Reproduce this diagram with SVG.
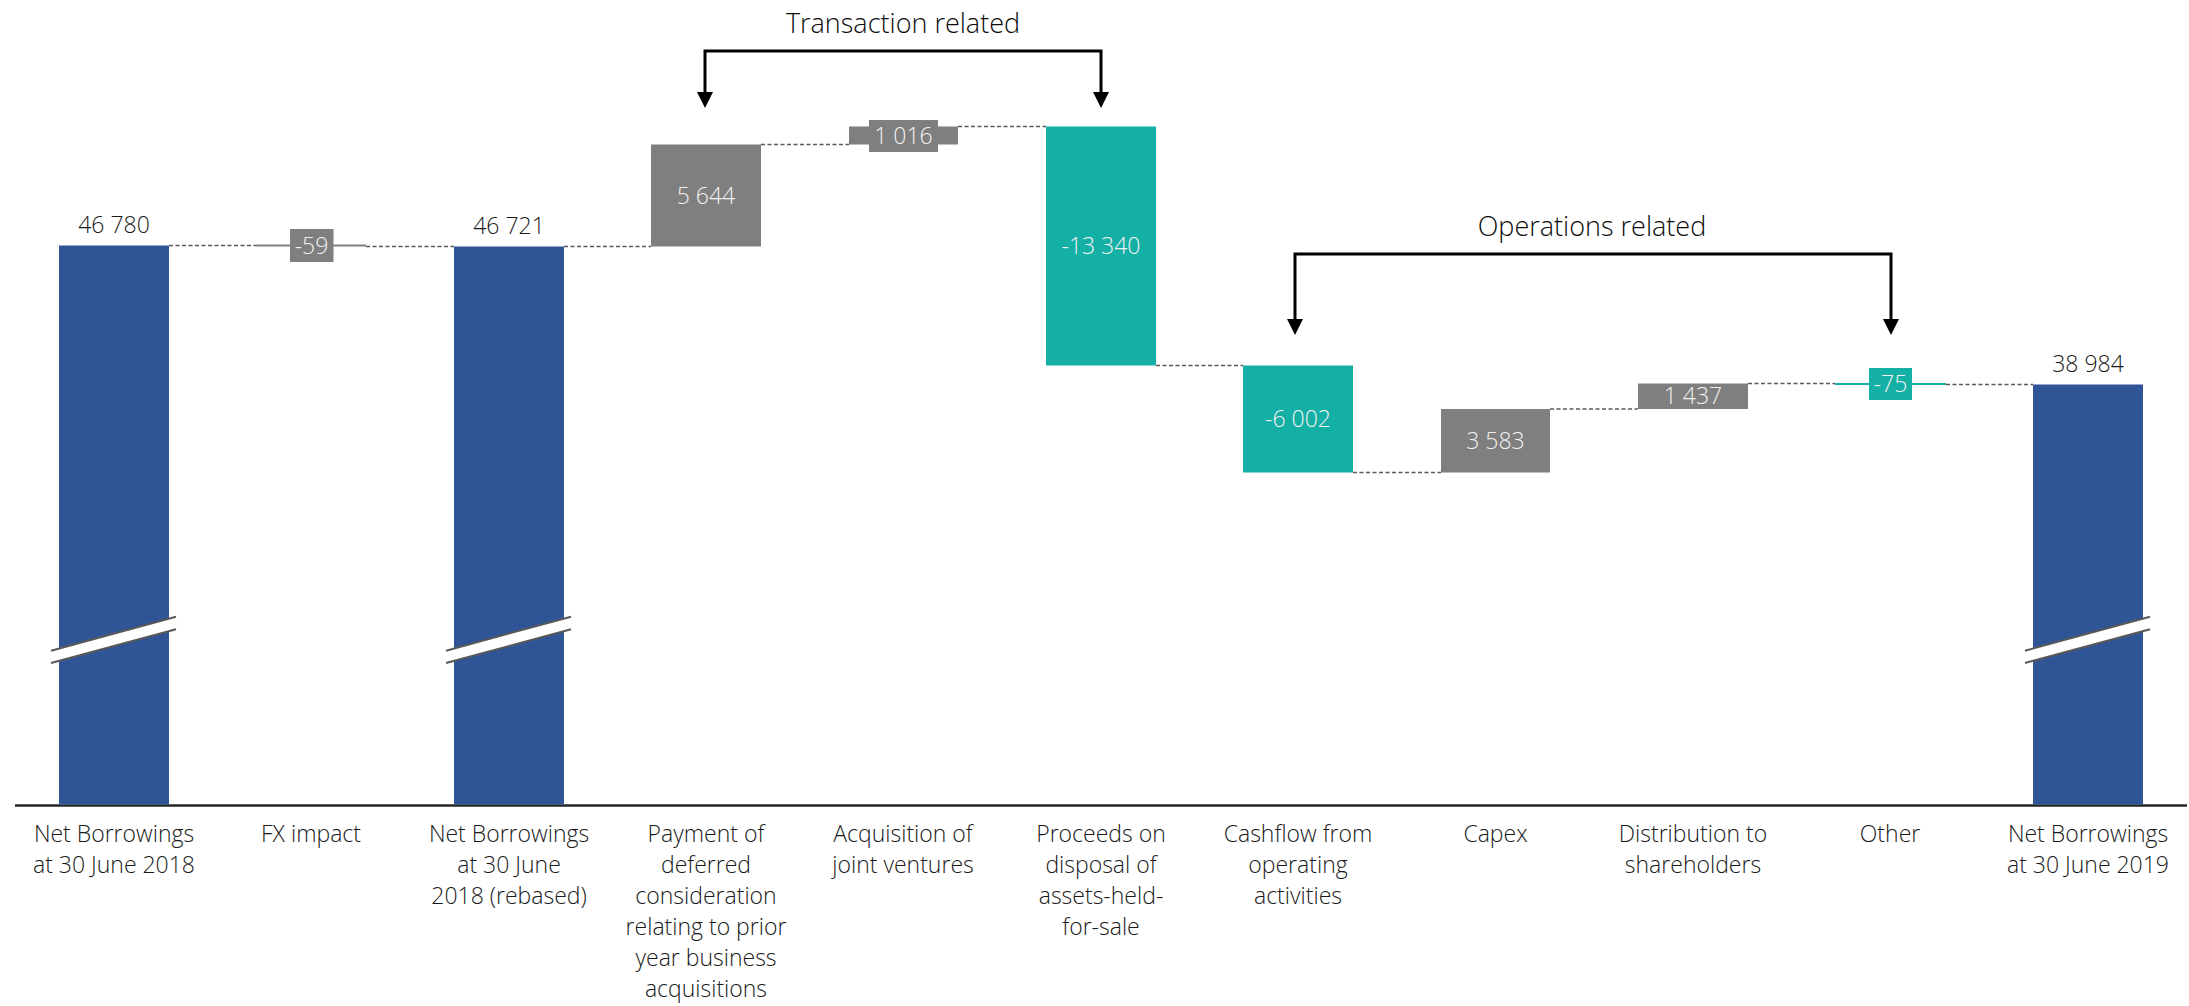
<svg xmlns="http://www.w3.org/2000/svg" width="2189" height="1006" viewBox="0 0 2189 1006">
<style>
text{font-family:"Open Sans","Noto Sans","Liberation Sans",sans-serif;font-size:23px;font-weight:300;fill:#1A1A1A;text-anchor:middle}
.in{fill:#F2F2F2}
.title{font-size:27px;fill:#0D0D0D}
.blue{fill:#2F5597}
.gray{fill:#7F7F7F}
.teal{fill:#14AFA5}
.dash{stroke:#595959;stroke-width:1.5;stroke-dasharray:4 2.5;fill:none}
.brk{fill:#FFFFFF;stroke:none}
.brkl{stroke:#595959;stroke-width:2;fill:none}
.br{stroke:#000;stroke-width:3;fill:none}
.ah{fill:#000}
</style>
<rect width="2189" height="1006" fill="#FFFFFF"/>

<g id="connectors">
<line class="dash" x1="169" y1="245.5" x2="256" y2="245.5"/>
<line class="dash" x1="366" y1="246.5" x2="454" y2="246.5"/>
<line class="dash" x1="564" y1="246.5" x2="651" y2="246.5"/>
<line class="dash" x1="761" y1="144.5" x2="849" y2="144.5"/>
<line class="dash" x1="958" y1="126.5" x2="1046" y2="126.5"/>
<line class="dash" x1="1156" y1="365.5" x2="1243" y2="365.5"/>
<line class="dash" x1="1353" y1="472.5" x2="1441" y2="472.5"/>
<line class="dash" x1="1550" y1="409" x2="1638" y2="409"/>
<line class="dash" x1="1748" y1="383.5" x2="1835" y2="383.5"/>
<line class="dash" x1="1946" y1="384.5" x2="2033" y2="384.5"/>
</g>

<g id="axis">
<line x1="15" y1="805.5" x2="2187" y2="805.5" stroke="#262626" stroke-width="2.5"/>
</g>

<g id="bar-nb2018">
<rect class="blue" x="59" y="245.5" width="110" height="559"/>
<polygon class="brk" points="51,650.7 176,616.7 176,629.3 51,663"/>
<line class="brkl" x1="51" y1="650.7" x2="176" y2="616.7"/>
<line class="brkl" x1="51" y1="663" x2="176" y2="629.3"/>
<text x="114" y="233">46 780</text>
<text x="114" y="841.5">Net Borrowings</text>
<text x="114" y="872.5">at 30 June 2018</text>
</g>

<g id="bar-fx">
<line x1="256" y1="245.5" x2="366" y2="245.5" stroke="#7F7F7F" stroke-width="2"/>
<rect class="gray" x="290" y="229" width="43.5" height="33"/>
<text class="in" x="311.5" y="253.5">-59</text>
<text x="311" y="841.5">FX impact</text>
</g>

<g id="bar-nb2018r">
<rect class="blue" x="454" y="246.5" width="110" height="558"/>
<polygon class="brk" points="446,650.7 571,616.7 571,629.3 446,663"/>
<line class="brkl" x1="446" y1="650.7" x2="571" y2="616.7"/>
<line class="brkl" x1="446" y1="663" x2="571" y2="629.3"/>
<text x="509" y="234">46 721</text>
<text x="509" y="841.5">Net Borrowings</text>
<text x="509" y="872.5">at 30 June</text>
<text x="509" y="903.5">2018 (rebased)</text>
</g>

<g id="bar-deferred">
<rect class="gray" x="651" y="144.5" width="110" height="102"/>
<text class="in" x="706" y="204">5 644</text>
<text x="706" y="841.5">Payment of</text>
<text x="706" y="872.5">deferred</text>
<text x="706" y="903.5">consideration</text>
<text x="706" y="934.5">relating to prior</text>
<text x="706" y="965.5">year business</text>
<text x="706" y="996.5">acquisitions</text>
</g>

<g id="bar-jv">
<rect class="gray" x="849" y="126.5" width="109" height="18"/>
<rect class="gray" x="869" y="120" width="69" height="32"/>
<text class="in" x="903.5" y="144">1 016</text>
<text x="903" y="841.5">Acquisition of</text>
<text x="903" y="872.5">joint ventures</text>
</g>

<g id="bar-proceeds">
<rect class="teal" x="1046" y="126.5" width="110" height="239"/>
<text class="in" x="1101" y="254">-13 340</text>
<text x="1101" y="841.5">Proceeds on</text>
<text x="1101" y="872.5">disposal of</text>
<text x="1101" y="903.5">assets-held-</text>
<text x="1101" y="934.5">for-sale</text>
</g>

<g id="bar-cashflow">
<rect class="teal" x="1243" y="365.5" width="110" height="107"/>
<text class="in" x="1298" y="427">-6 002</text>
<text x="1298" y="841.5">Cashflow from</text>
<text x="1298" y="872.5">operating</text>
<text x="1298" y="903.5">activities</text>
</g>

<g id="bar-capex">
<rect class="gray" x="1441" y="409" width="109" height="63.5"/>
<text class="in" x="1495.5" y="449">3 583</text>
<text x="1495.5" y="841.5">Capex</text>
</g>

<g id="bar-distribution">
<rect class="gray" x="1638" y="383.5" width="110" height="25.5"/>
<text class="in" x="1693" y="404">1 437</text>
<text x="1693" y="841.5">Distribution to</text>
<text x="1693" y="872.5">shareholders</text>
</g>

<g id="bar-other">
<line x1="1835" y1="384" x2="1946" y2="384" stroke="#14AFA5" stroke-width="2"/>
<rect class="teal" x="1869" y="368" width="43" height="32"/>
<text class="in" x="1890.5" y="392">-75</text>
<text x="1890" y="841.5">Other</text>
</g>

<g id="bar-nb2019">
<rect class="blue" x="2033" y="384.5" width="110" height="420"/>
<polygon class="brk" points="2025,650.7 2150,616.7 2150,629.3 2025,663"/>
<line class="brkl" x1="2025" y1="650.7" x2="2150" y2="616.7"/>
<line class="brkl" x1="2025" y1="663" x2="2150" y2="629.3"/>
<text x="2088" y="372">38 984</text>
<text x="2088" y="841.5">Net Borrowings</text>
<text x="2088" y="872.5">at 30 June 2019</text>
</g>

<g id="transaction-related">
<path class="br" d="M705,93 L705,51 L1101,51 L1101,93"/>
<polygon class="ah" points="697,92 713,92 705,108"/>
<polygon class="ah" points="1093,92 1109,92 1101,108"/>
<text class="title" x="903" y="33">Transaction related</text>
</g>

<g id="operations-related">
<path class="br" d="M1295,320 L1295,254 L1891,254 L1891,320"/>
<polygon class="ah" points="1287,319 1303,319 1295,335"/>
<polygon class="ah" points="1883,319 1899,319 1891,335"/>
<text class="title" x="1592" y="236">Operations related</text>
</g>
</svg>
